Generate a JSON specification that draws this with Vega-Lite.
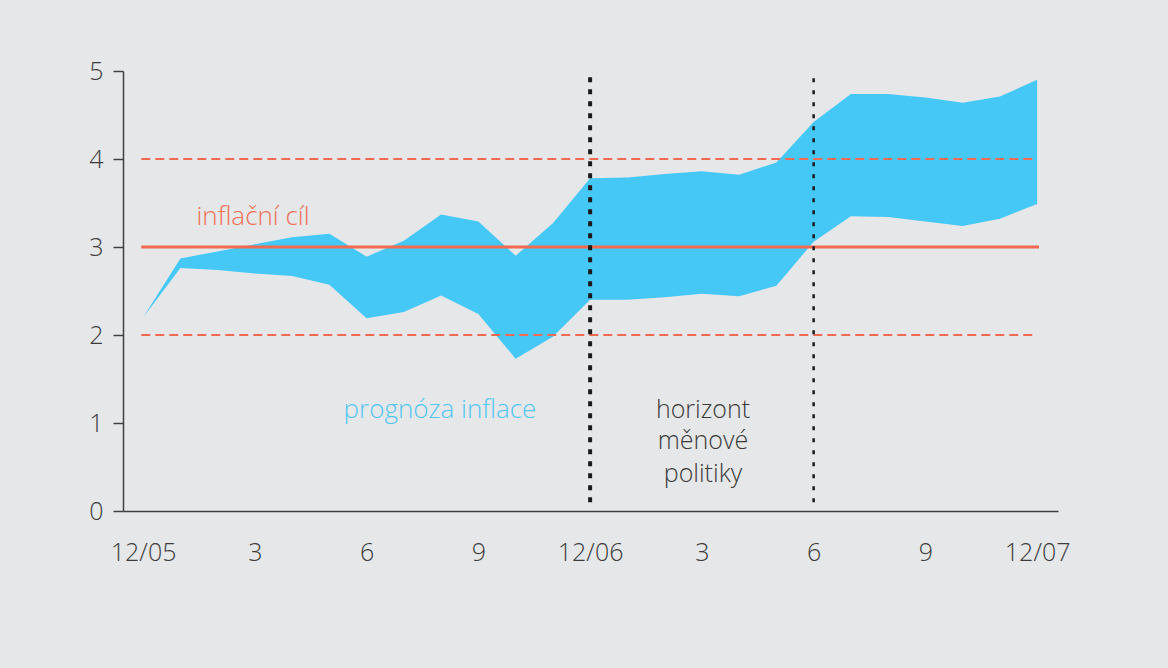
{
  "$schema": "https://vega.github.io/schema/vega-lite/v6.json",
  "autosize": {"type": "none"},
  "padding": {"left": 123, "top": 71, "right": 110, "bottom": 157},
  "width": 935,
  "height": 440,
  "background": "#e6e7e8",
  "config": {
    "view": {"stroke": null},
    "font": "Open Sans",
    "axis": {"grid": false, "domainColor": "#404040", "tickColor": "#404040", "labelColor": "#3c3c3c", "labelFont": "Open Sans", "labelFontSize": 25, "labelFontWeight": 300, "title": null}
  },
  "datasets": {
    "band": [
      {"m": 0, "lo": 2.20, "hi": 2.20},
      {"m": 1, "lo": 2.76, "hi": 2.87},
      {"m": 2, "lo": 2.74, "hi": 2.95},
      {"m": 3, "lo": 2.70, "hi": 3.03},
      {"m": 4, "lo": 2.67, "hi": 3.11},
      {"m": 5, "lo": 2.57, "hi": 3.15},
      {"m": 6, "lo": 2.19, "hi": 2.89},
      {"m": 7, "lo": 2.26, "hi": 3.07},
      {"m": 8, "lo": 2.45, "hi": 3.37},
      {"m": 9, "lo": 2.24, "hi": 3.29},
      {"m": 10, "lo": 1.73, "hi": 2.90},
      {"m": 11, "lo": 1.98, "hi": 3.27},
      {"m": 12, "lo": 2.40, "hi": 3.78},
      {"m": 13, "lo": 2.40, "hi": 3.79},
      {"m": 14, "lo": 2.43, "hi": 3.83},
      {"m": 15, "lo": 2.47, "hi": 3.86},
      {"m": 16, "lo": 2.44, "hi": 3.82},
      {"m": 17, "lo": 2.56, "hi": 3.96},
      {"m": 18, "lo": 3.06, "hi": 4.42},
      {"m": 19, "lo": 3.35, "hi": 4.74},
      {"m": 20, "lo": 3.34, "hi": 4.74},
      {"m": 21, "lo": 3.29, "hi": 4.70},
      {"m": 22, "lo": 3.24, "hi": 4.64},
      {"m": 23, "lo": 3.32, "hi": 4.71},
      {"m": 24, "lo": 3.49, "hi": 4.90}
    ]
  },
  "layer": [
    {
      "data": {"name": "band"},
      "mark": {"type": "area", "color": "#45c8f5", "opacity": 1},
      "encoding": {
        "x": {
          "field": "m", "type": "quantitative",
          "scale": {"domain": [-0.54, 24.56], "nice": false, "zero": false},
          "axis": {"values": [0, 3, 6, 9, 12, 15, 18, 21, 24], "ticks": false, "labelPadding": 29,
            "labelExpr": "datum.value == 0 ? '12/05' : datum.value == 12 ? '12/06' : datum.value == 24 ? '12/07' : toString(datum.value % 12)",
            "domainWidth": 1.5}
        },
        "y": {
          "field": "lo", "type": "quantitative",
          "scale": {"domain": [0, 5], "nice": false},
          "axis": {"values": [0, 1, 2, 3, 4, 5], "format": "d", "tickSize": 10, "labelPadding": 10, "domainWidth": 1.5, "tickWidth": 1.5}
        },
        "y2": {"field": "hi"}
      }
    },
    {
      "data": {"values": [{"y": 2, "x1": -0.05, "x2": 24.0}, {"y": 4, "x1": -0.05, "x2": 24.0}]},
      "mark": {"type": "rule", "color": "#f26a50", "strokeWidth": 2, "strokeDash": [9, 5]},
      "encoding": {
        "x": {"field": "x1", "type": "quantitative"},
        "x2": {"field": "x2"},
        "y": {"field": "y", "type": "quantitative"}
      }
    },
    {
      "data": {"values": [{"y": 3, "x1": -0.05, "x2": 24.05}]},
      "mark": {"type": "rule", "color": "#f26a50", "strokeWidth": 3},
      "encoding": {
        "x": {"field": "x1", "type": "quantitative"},
        "x2": {"field": "x2"},
        "y": {"field": "y", "type": "quantitative"}
      }
    },
    {
      "data": {"values": [{"m": 12, "y1": 0.1, "y2": 5}]},
      "mark": {"type": "rule", "color": "#1a1a1a", "strokeWidth": 4, "strokeDash": [5, 7]},
      "encoding": {
        "x": {"field": "m", "type": "quantitative"},
        "y": {"field": "y1", "type": "quantitative"},
        "y2": {"field": "y2"}
      }
    },
    {
      "data": {"values": [{"m": 18, "y1": 0.1, "y2": 5}]},
      "mark": {"type": "rule", "color": "#1a1a1a", "strokeWidth": 2.5, "strokeDash": [4, 8]},
      "encoding": {
        "x": {"field": "m", "type": "quantitative"},
        "y": {"field": "y1", "type": "quantitative"},
        "y2": {"field": "y2"}
      }
    },
    {
      "data": {"values": [{"m": 2.95, "v": 3.34, "t": "inflační cíl"}]},
      "mark": {"type": "text", "color": "#ef6f55", "fontSize": 26, "fontWeight": 300, "font": "Open Sans", "baseline": "middle", "align": "center"},
      "encoding": {
        "x": {"field": "m", "type": "quantitative"},
        "y": {"field": "v", "type": "quantitative"},
        "text": {"field": "t"}
      }
    },
    {
      "data": {"values": [{"m": 7.97, "v": 1.15, "t": "prognóza inflace"}]},
      "mark": {"type": "text", "color": "#52c6f2", "fontSize": 26, "fontWeight": 300, "font": "Open Sans", "baseline": "middle", "align": "center"},
      "encoding": {
        "x": {"field": "m", "type": "quantitative"},
        "y": {"field": "v", "type": "quantitative"},
        "text": {"field": "t"}
      }
    },
    {
      "data": {"values": [
        {"m": 15.03, "v": 1.15, "t": "horizont"},
        {"m": 15.03, "v": 0.79, "t": "měnové"},
        {"m": 15.03, "v": 0.42, "t": "politiky"}
      ]},
      "mark": {"type": "text", "color": "#3a3a3a", "fontSize": 25, "fontWeight": 300, "font": "Open Sans", "baseline": "middle", "align": "center"},
      "encoding": {
        "x": {"field": "m", "type": "quantitative"},
        "y": {"field": "v", "type": "quantitative"},
        "text": {"field": "t"}
      }
    }
  ]
}
